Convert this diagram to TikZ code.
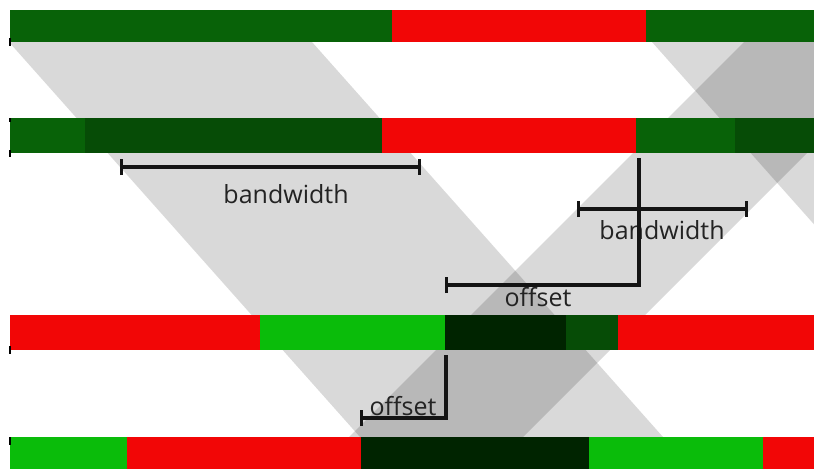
\documentclass[tikz,border=0pt]{standalone}
\usepackage{fontspec}
\setmainfont{Open Sans}
\usetikzlibrary{arrows.meta}

\definecolor{dkgreen}{RGB}{8,98,8}
\definecolor{dpgreen}{RGB}{6,76,6}
\definecolor{ltgreen}{RGB}{10,188,10}
\definecolor{blgreen}{RGB}{0,36,0}
\definecolor{sigred}{RGB}{242,6,6}
\definecolor{labelc}{RGB}{35,35,35}

\tikzset{
  band/.style={fill=black, fill opacity=0.15, draw=none},
  dimline/.style={line width=3.2pt, black!92, line join=miter},
  dimlabel/.style={font=\fontsize{25}{28}\selectfont, text=labelc, inner sep=0pt},
}

\begin{document}
\begin{tikzpicture}[x=1pt,y=-1pt]

\useasboundingbox (0,0) rectangle (814,469);
\fill[white] (0,0) rectangle (814,469);

% green bands
\begin{scope}
  \clip (0,0) rectangle (814,469);
  % forward bands, one per cycle
  \foreach \s in {0,643}
    \fill[band] (9+\s,42) -- (312+\s,42) -- (663+\s,437) -- (360+\s,437) -- cycle;
  % backward band
  \fill[band] (744,42) -- (918,42) -- (523,437) -- (349,437) -- cycle;
\end{scope}

% signal timings
\foreach \xa/\ya/\xb/\yb/\c in {
  10/10/392/42/dkgreen, 392/10/646/42/sigred, 646/10/814/42/dkgreen,
  10/118/85/153/dkgreen, 85/118/382/153/dpgreen, 382/118/636/153/sigred,
  636/118/735/153/dkgreen, 735/118/814/153/dpgreen,
  10/315/260/350/sigred, 260/315/445/350/ltgreen, 445/315/566/350/blgreen,
  566/315/618/350/dpgreen, 618/315/814/350/sigred,
  10/437/127/469/ltgreen, 127/437/361/469/sigred, 361/437/589/469/blgreen,
  589/437/763/469/ltgreen, 763/437/814/469/sigred}
  \fill[\c] (\xa,\ya) rectangle (\xb,\yb);

% marks at the left ends
\foreach \ya/\yb in {38/46, 118/122, 150/157, 346/354, 437/445}
  \draw[line width=2pt] (10,\ya) -- (10,\yb);

% labels
\node[dimlabel] (bwlabA) at (286,194) {bandwidth};
\node[dimlabel] (bwlabB) at (662,230) {bandwidth};
\node[dimlabel] (offlabA) at (538,297) {offset};
\node[dimlabel] (offlabB) at (403,406) {offset};

% measures
\coordinate (bwAL) at (120,167);
\coordinate (bwAR) at (421,167);
\coordinate (bwBL) at (577,209);
\coordinate (bwBR) at (748,209);
\coordinate (offAtop) at (639,158);
\coordinate (offAcorner) at (639,285);
\coordinate (offAL) at (445,285);
\coordinate (offBtop) at (446,355);
\coordinate (offBcorner) at (446,418);
\coordinate (offBL) at (360,418);

\draw[dimline, {Bar[width=16pt]}-{Bar[width=16pt]}] (bwAL) -- (bwAR);
\draw[dimline, {Bar[width=16pt]}-{Bar[width=16pt]}] (bwBL) -- (bwBR);
\draw[dimline, {Bar[width=16pt]}-] (offAL) -- (offAcorner) -- (offAtop);
\draw[dimline, {Bar[width=16pt]}-] (offBL) -- (offBcorner) -- (offBtop);

\end{tikzpicture}
\end{document}
